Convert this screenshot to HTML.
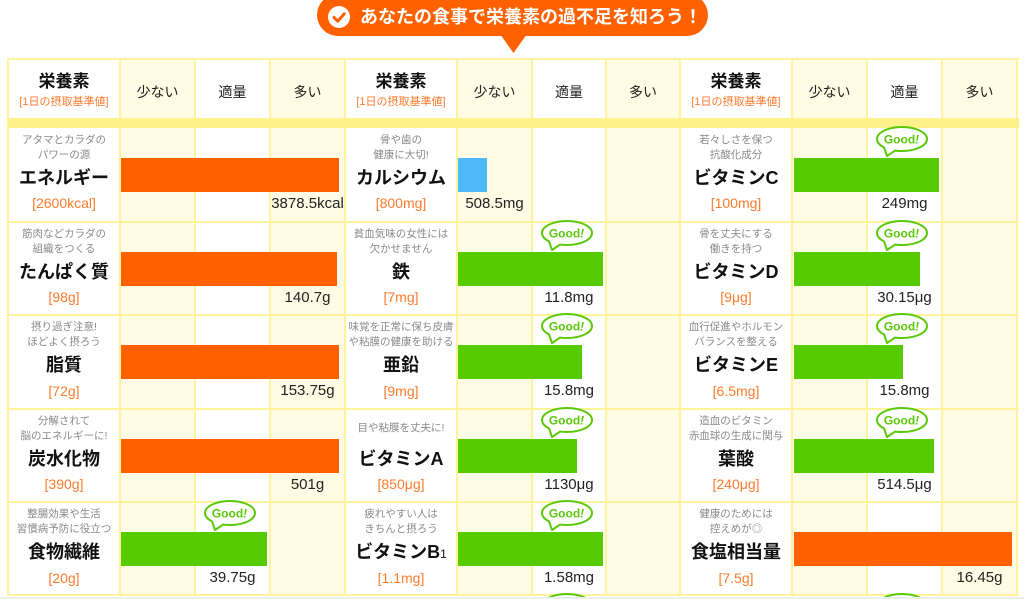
<!DOCTYPE html>
<html><head><meta charset="utf-8">
<style>
*{margin:0;padding:0;box-sizing:border-box}
html,body{width:1024px;height:599px;overflow:hidden;background:#fff}
body{position:relative;font-family:"Liberation Sans","Noto Sans CJK JP",sans-serif}
.a{position:absolute}
.t{position:absolute;text-align:center;white-space:nowrap}
.cap{font-size:10.5px;line-height:14px;color:#8a8a8a;width:112px}
.nm{font-size:18px;line-height:24px;font-weight:bold;color:#111;width:112px}
.br{font-size:14px;line-height:18px;color:#ff7b2c;width:112px}
.val{font-size:15px;line-height:18px;color:#222}
.h1{font-size:17px;line-height:22px;font-weight:bold;color:#111;width:112px;top:71px}
.h2{font-size:11px;line-height:14px;color:#ff7b2c;width:112px;top:95px}
.lv{font-size:14px;line-height:20px;color:#222;top:82px}
.y{background:#fffbe4}
.vl{position:absolute;top:58px;width:2px;height:538px;background:#fff39b}
.hl{position:absolute;left:7px;width:1012px;height:2px;background:#fff39b}
.bo{position:absolute;height:34px;background:#ff6000}
.bg{position:absolute;height:34px;background:#56cb00}
.bb{position:absolute;height:34px;background:#4cb9f8}
.gd{position:absolute;width:54px;height:34px}
</style></head><body>

<!-- column tints -->
<div class="a y" style="left:120px;top:59px;width:75px;height:537px"></div>
<div class="a y" style="left:270px;top:59px;width:75px;height:537px"></div>
<div class="a y" style="left:457px;top:59px;width:75px;height:537px"></div>
<div class="a y" style="left:606px;top:59px;width:74px;height:537px"></div>
<div class="a y" style="left:792px;top:59px;width:75px;height:537px"></div>
<div class="a y" style="left:942px;top:59px;width:75px;height:537px"></div>

<!-- grid lines -->
<div class="vl" style="left:7px"></div>
<div class="vl" style="left:119px"></div>
<div class="vl" style="left:194px"></div>
<div class="vl" style="left:269px"></div>
<div class="vl" style="left:344px"></div>
<div class="vl" style="left:456px"></div>
<div class="vl" style="left:531px"></div>
<div class="vl" style="left:605px"></div>
<div class="vl" style="left:679px"></div>
<div class="vl" style="left:791px"></div>
<div class="vl" style="left:866px"></div>
<div class="vl" style="left:941px"></div>
<div class="vl" style="left:1016px"></div>
<div class="hl" style="top:58px"></div>
<div class="a" style="left:7px;top:118px;width:1012px;height:10px;background:#fff28a"></div>
<div class="hl" style="top:220.5px"></div>
<div class="hl" style="top:314px"></div>
<div class="hl" style="top:407.5px"></div>
<div class="hl" style="top:501px"></div>
<div class="hl" style="top:594px"></div>

<!-- title badge -->
<div class="a" style="left:317px;top:-6px;width:391px;height:42px;border-radius:21px;background:#ff6000"></div>
<svg class="a" style="left:0;top:0" width="1024" height="60"><polygon points="500,34 527,34 513.5,53" fill="#ff6000"/></svg>
<div class="a" style="left:328px;top:6px;width:22px;height:22px;border-radius:50%;background:#fff"></div>
<svg class="a" style="left:328px;top:6px" width="22" height="22"><polyline points="6,11.5 9.8,15.2 16.2,7.8" fill="none" stroke="#ff6000" stroke-width="3" stroke-linecap="round" stroke-linejoin="round"/></svg>
<div class="t" style="left:360px;top:5px;font-size:18px;line-height:24px;font-weight:bold;color:#fff">あなたの食事で栄養素の過不足を知ろう！</div>

<!-- headers -->
<div class="t h1" style="left:8px">栄養素</div><div class="t h2" style="left:8px">[1日の摂取基準値]</div>
<div class="t lv" style="left:120px;width:75px">少ない</div><div class="t lv" style="left:195px;width:75px">適量</div><div class="t lv" style="left:270px;width:75px">多い</div>
<div class="t h1" style="left:345px">栄養素</div><div class="t h2" style="left:345px">[1日の摂取基準値]</div>
<div class="t lv" style="left:457px;width:75px">少ない</div><div class="t lv" style="left:532px;width:74px">適量</div><div class="t lv" style="left:606px;width:74px">多い</div>
<div class="t h1" style="left:680px">栄養素</div><div class="t h2" style="left:680px">[1日の摂取基準値]</div>
<div class="t lv" style="left:792px;width:75px">少ない</div><div class="t lv" style="left:867px;width:75px">適量</div><div class="t lv" style="left:942px;width:75px">多い</div>

<!-- SECTION 1 -->
<div class="t cap" style="left:8px;top:133px">アタマとカラダの</div><div class="t cap" style="left:8px;top:148px">パワーの源</div>
<div class="t nm" style="left:8px;top:166px">エネルギー</div><div class="t br" style="left:8px;top:194px">[2600kcal]</div>
<div class="bo" style="left:121px;top:158px;width:218px"></div>
<div class="t val" style="left:270px;width:75px;top:195px">3878.5kcal</div>

<div class="t cap" style="left:8px;top:226.5px">筋肉などカラダの</div><div class="t cap" style="left:8px;top:241.5px">組織をつくる</div>
<div class="t nm" style="left:8px;top:259.5px">たんぱく質</div><div class="t br" style="left:8px;top:288px">[98g]</div>
<div class="bo" style="left:121px;top:251.5px;width:216px"></div>
<div class="t val" style="left:270px;width:75px;top:288.5px">140.7g</div>

<div class="t cap" style="left:8px;top:320px">摂り過ぎ注意!</div><div class="t cap" style="left:8px;top:335px">ほどよく摂ろう</div>
<div class="t nm" style="left:8px;top:353px">脂質</div><div class="t br" style="left:8px;top:381.5px">[72g]</div>
<div class="bo" style="left:121px;top:345px;width:218px"></div>
<div class="t val" style="left:270px;width:75px;top:382px">153.75g</div>

<div class="t cap" style="left:8px;top:413.5px">分解されて</div><div class="t cap" style="left:8px;top:428.5px">脳のエネルギーに!</div>
<div class="t nm" style="left:8px;top:446.5px">炭水化物</div><div class="t br" style="left:8px;top:475px">[390g]</div>
<div class="bo" style="left:121px;top:438.5px;width:218px"></div>
<div class="t val" style="left:270px;width:75px;top:475.5px">501g</div>

<div class="t cap" style="left:8px;top:507px">整腸効果や生活</div><div class="t cap" style="left:8px;top:522px">習慣病予防に役立つ</div>
<div class="t nm" style="left:8px;top:540px">食物繊維</div><div class="t br" style="left:8px;top:568.5px">[20g]</div>
<div class="bg" style="left:121px;top:532px;width:146px"></div>
<div class="t val" style="left:195px;width:75px;top:569px">39.75g</div>

<!-- SECTION 2 -->
<div class="t cap" style="left:345px;top:133px">骨や歯の</div><div class="t cap" style="left:345px;top:148px">健康に大切!</div>
<div class="t nm" style="left:345px;top:166px">カルシウム</div><div class="t br" style="left:345px;top:194px">[800mg]</div>
<div class="bb" style="left:458px;top:158px;width:29px"></div>
<div class="t val" style="left:457px;width:75px;top:195px">508.5mg</div>

<div class="t cap" style="left:345px;top:226.5px">貧血気味の女性には</div><div class="t cap" style="left:345px;top:241.5px">欠かせません</div>
<div class="t nm" style="left:345px;top:259.5px">鉄</div><div class="t br" style="left:345px;top:288px">[7mg]</div>
<div class="bg" style="left:458px;top:251.5px;width:145px"></div>
<div class="t val" style="left:532px;width:74px;top:288.5px">11.8mg</div>

<div class="t cap" style="left:345px;top:320px">味覚を正常に保ち皮膚</div><div class="t cap" style="left:345px;top:335px">や粘膜の健康を助ける</div>
<div class="t nm" style="left:345px;top:353px">亜鉛</div><div class="t br" style="left:345px;top:381.5px">[9mg]</div>
<div class="bg" style="left:458px;top:345px;width:124px"></div>
<div class="t val" style="left:532px;width:74px;top:382px">15.8mg</div>

<div class="t cap" style="left:345px;top:421px">目や粘膜を丈夫に!</div>
<div class="t nm" style="left:345px;top:446.5px">ビタミンA</div><div class="t br" style="left:345px;top:475px">[850μg]</div>
<div class="bg" style="left:458px;top:438.5px;width:119px"></div>
<div class="t val" style="left:532px;width:74px;top:475.5px">1130μg</div>

<div class="t cap" style="left:345px;top:507px">疲れやすい人は</div><div class="t cap" style="left:345px;top:522px">きちんと摂ろう</div>
<div class="t nm" style="left:345px;top:540px">ビタミンB<span style="font-size:12px;font-weight:normal">1</span></div><div class="t br" style="left:345px;top:568.5px">[1.1mg]</div>
<div class="bg" style="left:458px;top:532px;width:145px"></div>
<div class="t val" style="left:532px;width:74px;top:569px">1.58mg</div>

<!-- SECTION 3 -->
<div class="t cap" style="left:680px;top:133px">若々しさを保つ</div><div class="t cap" style="left:680px;top:148px">抗酸化成分</div>
<div class="t nm" style="left:680px;top:166px">ビタミンC</div><div class="t br" style="left:680px;top:194px">[100mg]</div>
<div class="bg" style="left:794px;top:158px;width:145px"></div>
<div class="t val" style="left:867px;width:75px;top:195px">249mg</div>

<div class="t cap" style="left:680px;top:226.5px">骨を丈夫にする</div><div class="t cap" style="left:680px;top:241.5px">働きを持つ</div>
<div class="t nm" style="left:680px;top:259.5px">ビタミンD</div><div class="t br" style="left:680px;top:288px">[9μg]</div>
<div class="bg" style="left:794px;top:251.5px;width:126px"></div>
<div class="t val" style="left:867px;width:75px;top:288.5px">30.15μg</div>

<div class="t cap" style="left:680px;top:320px">血行促進やホルモン</div><div class="t cap" style="left:680px;top:335px">バランスを整える</div>
<div class="t nm" style="left:680px;top:353px">ビタミンE</div><div class="t br" style="left:680px;top:381.5px">[6.5mg]</div>
<div class="bg" style="left:794px;top:345px;width:109px"></div>
<div class="t val" style="left:867px;width:75px;top:382px">15.8mg</div>

<div class="t cap" style="left:680px;top:413.5px">造血のビタミン</div><div class="t cap" style="left:680px;top:428.5px">赤血球の生成に関与</div>
<div class="t nm" style="left:680px;top:446.5px">葉酸</div><div class="t br" style="left:680px;top:475px">[240μg]</div>
<div class="bg" style="left:794px;top:438.5px;width:140px"></div>
<div class="t val" style="left:867px;width:75px;top:475.5px">514.5μg</div>

<div class="t cap" style="left:680px;top:507px">健康のためには</div><div class="t cap" style="left:680px;top:522px">控えめが◎</div>
<div class="t nm" style="left:680px;top:540px">食塩相当量</div><div class="t br" style="left:680px;top:568.5px">[7.5g]</div>
<div class="bo" style="left:794px;top:532px;width:218px"></div>
<div class="t val" style="left:942px;width:75px;top:569px">16.45g</div>

<!-- Good bubbles -->
<svg class="gd" style="left:203px;top:499px" viewBox="0 0 54 34"><ellipse cx="27" cy="14" rx="25" ry="12" fill="#fff" stroke="#5cc80a" stroke-width="2"/><polygon points="9.5,21 20,23.5 19,26.5 12.5,29.5" fill="#fff"/><polyline points="9,22.3 12,31 20.5,25.3" fill="none" stroke="#5cc80a" stroke-width="2" stroke-linejoin="round"/><text x="26.5" y="18.3" text-anchor="middle" font-family="Liberation Sans" font-weight="bold" font-size="12" fill="#5cc80a">Good<tspan font-style="italic">!</tspan></text></svg>

<svg class="gd" style="left:539.5px;top:218.5px" viewBox="0 0 54 34"><ellipse cx="27" cy="14" rx="25" ry="12" fill="#fff" stroke="#5cc80a" stroke-width="2"/><polygon points="9.5,21 20,23.5 19,26.5 12.5,29.5" fill="#fff"/><polyline points="9,22.3 12,31 20.5,25.3" fill="none" stroke="#5cc80a" stroke-width="2" stroke-linejoin="round"/><text x="26.5" y="18.3" text-anchor="middle" font-family="Liberation Sans" font-weight="bold" font-size="12" fill="#5cc80a">Good<tspan font-style="italic">!</tspan></text></svg>
<svg class="gd" style="left:539.5px;top:312px" viewBox="0 0 54 34"><ellipse cx="27" cy="14" rx="25" ry="12" fill="#fff" stroke="#5cc80a" stroke-width="2"/><polygon points="9.5,21 20,23.5 19,26.5 12.5,29.5" fill="#fff"/><polyline points="9,22.3 12,31 20.5,25.3" fill="none" stroke="#5cc80a" stroke-width="2" stroke-linejoin="round"/><text x="26.5" y="18.3" text-anchor="middle" font-family="Liberation Sans" font-weight="bold" font-size="12" fill="#5cc80a">Good<tspan font-style="italic">!</tspan></text></svg>
<svg class="gd" style="left:539.5px;top:405.5px" viewBox="0 0 54 34"><ellipse cx="27" cy="14" rx="25" ry="12" fill="#fff" stroke="#5cc80a" stroke-width="2"/><polygon points="9.5,21 20,23.5 19,26.5 12.5,29.5" fill="#fff"/><polyline points="9,22.3 12,31 20.5,25.3" fill="none" stroke="#5cc80a" stroke-width="2" stroke-linejoin="round"/><text x="26.5" y="18.3" text-anchor="middle" font-family="Liberation Sans" font-weight="bold" font-size="12" fill="#5cc80a">Good<tspan font-style="italic">!</tspan></text></svg>
<svg class="gd" style="left:539.5px;top:499px" viewBox="0 0 54 34"><ellipse cx="27" cy="14" rx="25" ry="12" fill="#fff" stroke="#5cc80a" stroke-width="2"/><polygon points="9.5,21 20,23.5 19,26.5 12.5,29.5" fill="#fff"/><polyline points="9,22.3 12,31 20.5,25.3" fill="none" stroke="#5cc80a" stroke-width="2" stroke-linejoin="round"/><text x="26.5" y="18.3" text-anchor="middle" font-family="Liberation Sans" font-weight="bold" font-size="12" fill="#5cc80a">Good<tspan font-style="italic">!</tspan></text></svg>
<svg class="gd" style="left:539.5px;top:592px" viewBox="0 0 54 34"><ellipse cx="27" cy="14" rx="25" ry="12" fill="#fff" stroke="#5cc80a" stroke-width="2"/></svg>

<svg class="gd" style="left:875px;top:125px" viewBox="0 0 54 34"><ellipse cx="27" cy="14" rx="25" ry="12" fill="#fff" stroke="#5cc80a" stroke-width="2"/><polygon points="9.5,21 20,23.5 19,26.5 12.5,29.5" fill="#fff"/><polyline points="9,22.3 12,31 20.5,25.3" fill="none" stroke="#5cc80a" stroke-width="2" stroke-linejoin="round"/><text x="26.5" y="18.3" text-anchor="middle" font-family="Liberation Sans" font-weight="bold" font-size="12" fill="#5cc80a">Good<tspan font-style="italic">!</tspan></text></svg>
<svg class="gd" style="left:875px;top:218.5px" viewBox="0 0 54 34"><ellipse cx="27" cy="14" rx="25" ry="12" fill="#fff" stroke="#5cc80a" stroke-width="2"/><polygon points="9.5,21 20,23.5 19,26.5 12.5,29.5" fill="#fff"/><polyline points="9,22.3 12,31 20.5,25.3" fill="none" stroke="#5cc80a" stroke-width="2" stroke-linejoin="round"/><text x="26.5" y="18.3" text-anchor="middle" font-family="Liberation Sans" font-weight="bold" font-size="12" fill="#5cc80a">Good<tspan font-style="italic">!</tspan></text></svg>
<svg class="gd" style="left:875px;top:312px" viewBox="0 0 54 34"><ellipse cx="27" cy="14" rx="25" ry="12" fill="#fff" stroke="#5cc80a" stroke-width="2"/><polygon points="9.5,21 20,23.5 19,26.5 12.5,29.5" fill="#fff"/><polyline points="9,22.3 12,31 20.5,25.3" fill="none" stroke="#5cc80a" stroke-width="2" stroke-linejoin="round"/><text x="26.5" y="18.3" text-anchor="middle" font-family="Liberation Sans" font-weight="bold" font-size="12" fill="#5cc80a">Good<tspan font-style="italic">!</tspan></text></svg>
<svg class="gd" style="left:875px;top:405.5px" viewBox="0 0 54 34"><ellipse cx="27" cy="14" rx="25" ry="12" fill="#fff" stroke="#5cc80a" stroke-width="2"/><polygon points="9.5,21 20,23.5 19,26.5 12.5,29.5" fill="#fff"/><polyline points="9,22.3 12,31 20.5,25.3" fill="none" stroke="#5cc80a" stroke-width="2" stroke-linejoin="round"/><text x="26.5" y="18.3" text-anchor="middle" font-family="Liberation Sans" font-weight="bold" font-size="12" fill="#5cc80a">Good<tspan font-style="italic">!</tspan></text></svg>
<svg class="gd" style="left:875px;top:592px" viewBox="0 0 54 34"><ellipse cx="27" cy="14" rx="25" ry="12" fill="#fff" stroke="#5cc80a" stroke-width="2"/></svg>

<!-- bottom strip -->
<div class="a" style="left:0;top:596.5px;width:1024px;height:3px;background:#ededed"></div>

</body></html>
